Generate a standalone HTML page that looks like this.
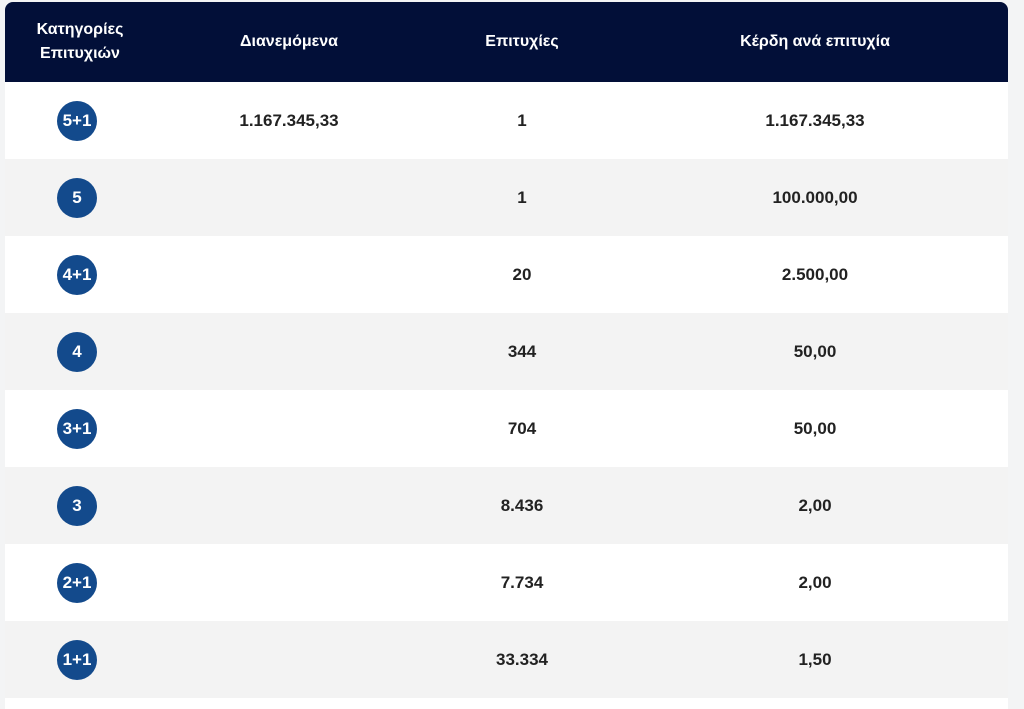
<!DOCTYPE html>
<html><head><meta charset="utf-8"><style>
html,body{margin:0;width:1024px;height:709px;overflow:hidden;}
body{background:#f3f4f5;font-family:"Liberation Sans","DejaVu Sans",sans-serif;position:relative;}
.t{position:absolute;left:5px;top:2px;width:1003px;}
.h{height:80px;background:#020f38;border-radius:8px 8px 0 0;position:relative;color:#fff;font-weight:bold;font-size:16px;}
.r{height:77px;position:relative;color:#222;font-weight:bold;font-size:17px;}
.w{background:#fff}.g{background:#f3f3f3}
.c{position:absolute;transform:translate(-50%,-50%);top:50%;text-align:center;white-space:nowrap;line-height:24px;}
.b{width:40px;height:40px;border-radius:50%;background:#134a8c;color:#fff;font-size:17px;line-height:40px;text-align:center;}
</style></head><body>
<div class="t">
<div class="h">
<div class="c" style="left:75px">Κατηγορίες<br>Επιτυχιών</div>
<div class="c" style="left:284px">Διανεμόμενα</div>
<div class="c" style="left:517px">Επιτυχίες</div>
<div class="c" style="left:810px">Κέρδη ανά επιτυχία</div>
</div>
<div class="r w"><div class="c b" style="left:72px">5+1</div><div class="c" style="left:284px">1.167.345,33</div><div class="c" style="left:517px">1</div><div class="c" style="left:810px">1.167.345,33</div></div>
<div class="r g"><div class="c b" style="left:72px">5</div><div class="c" style="left:517px">1</div><div class="c" style="left:810px">100.000,00</div></div>
<div class="r w"><div class="c b" style="left:72px">4+1</div><div class="c" style="left:517px">20</div><div class="c" style="left:810px">2.500,00</div></div>
<div class="r g"><div class="c b" style="left:72px">4</div><div class="c" style="left:517px">344</div><div class="c" style="left:810px">50,00</div></div>
<div class="r w"><div class="c b" style="left:72px">3+1</div><div class="c" style="left:517px">704</div><div class="c" style="left:810px">50,00</div></div>
<div class="r g"><div class="c b" style="left:72px">3</div><div class="c" style="left:517px">8.436</div><div class="c" style="left:810px">2,00</div></div>
<div class="r w"><div class="c b" style="left:72px">2+1</div><div class="c" style="left:517px">7.734</div><div class="c" style="left:810px">2,00</div></div>
<div class="r g"><div class="c b" style="left:72px">1+1</div><div class="c" style="left:517px">33.334</div><div class="c" style="left:810px">1,50</div></div>
<div class="r w" style="height:12px"></div>
</div>
</body></html>
